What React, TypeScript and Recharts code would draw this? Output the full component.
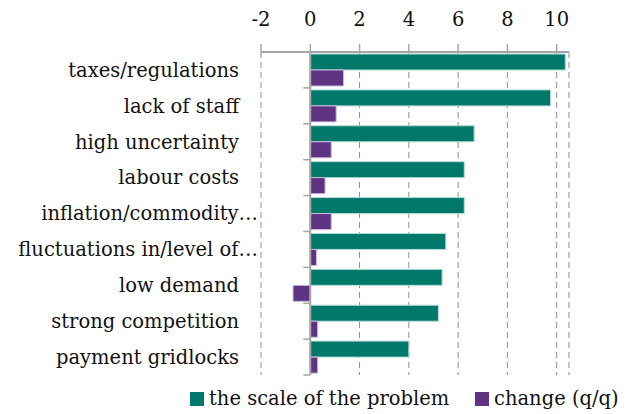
import { BarChart, Bar, XAxis, YAxis, CartesianGrid, ReferenceLine } from "recharts";

const categories = [
  "taxes/regulations",
  "lack of staff",
  "high uncertainty",
  "labour costs",
  "inflation/commodity…",
  "fluctuations in/level of…",
  "low demand",
  "strong competition",
  "payment gridlocks",
];
const scaleOfProblem = [10.35, 9.75, 6.65, 6.25, 6.25, 5.5, 5.35, 5.2, 4.0];
const changeQQ = [1.35, 1.05, 0.85, 0.6, 0.85, 0.25, -0.7, 0.3, 0.3];
const xTicks = [-2, 0, 2, 4, 6, 8, 10];
const seriesNames = ["the scale of the problem", "change (q/q)"];

const data = categories.map((name, i) => ({
  name,
  scale: scaleOfProblem[i],
  change: changeQQ[i],
}));

const W = 635;
const H = 414;
const PLOT_LEFT = 261;
const PLOT_RIGHT = 569;
const PLOT_TOP = 52;
const PLOT_BOTTOM = 375;
const X_MIN = -2;
const X_MAX = 10.5;

const FONT = "'DejaVu Serif', serif";
const FONT_SIZE = 19.5;
const TEAL = "#00796b";
const PURPLE = "#5e3382";
const AXIS = "#a6a6a6";
const GRID = "#8c8c8c";

// the category axis crosses at 0, so its little boundary ticks sit there
const zeroX = PLOT_LEFT + ((0 - X_MIN) / (X_MAX - X_MIN)) * (PLOT_RIGHT - PLOT_LEFT);
const halfBand = (PLOT_BOTTOM - PLOT_TOP) / categories.length / 2;

function CategoryTick(props: any) {
  const { x, y, payload, index } = props;
  const label: string = payload.value;
  const shift = label.endsWith("…") ? 19 : 0;
  return (
    <g>
      <line x1={zeroX - 7} x2={zeroX} y1={y - halfBand} y2={y - halfBand} stroke={AXIS} strokeWidth={1.5} />
      {index === categories.length - 1 && (
        <line x1={zeroX - 7} x2={zeroX} y1={y + halfBand} y2={y + halfBand} stroke={AXIS} strokeWidth={1.5} />
      )}
      <text
        x={x + shift}
        y={y}
        dy="0.35em"
        textAnchor="end"
        fontFamily={FONT}
        fontSize={FONT_SIZE}
        fill="#111"
      >
        {label}
      </text>
    </g>
  );
}

function LegendBox() {
  const colors = [TEAL, PURPLE];
  const widths = [285, 160];
  return (
    <div
      style={{
        position: "absolute",
        left: 190,
        top: 387,
        display: "flex",
        alignItems: "center",
        fontFamily: FONT,
        fontSize: FONT_SIZE,
        color: "#111",
      }}
    >
      {seriesNames.map((n, i) => (
        <div key={n} style={{ display: "flex", alignItems: "center", width: widths[i] }}>
          <span style={{ width: 14, height: 14, background: colors[i], marginRight: 5, display: "inline-block" }} />
          <span>{n}</span>
        </div>
      ))}
    </div>
  );
}

export default function App() {
  return (
    <div style={{ position: "absolute", left: 0, top: 0, width: W, height: H, background: "#fff" }}>
      <BarChart
        width={W}
        height={H}
        data={data}
        layout="vertical"
        margin={{ top: 0, right: W - PLOT_RIGHT, bottom: H - PLOT_BOTTOM, left: 0 }}
        barCategoryGap={2}
        barGap={0}
      >
        <CartesianGrid horizontal={false} strokeDasharray="6 4" stroke={GRID} />
        <XAxis
          type="number"
          orientation="top"
          domain={[X_MIN, X_MAX]}
          ticks={xTicks}
          height={PLOT_TOP}
          tickSize={8}
          tickMargin={18}
          axisLine={{ stroke: AXIS, strokeWidth: 2 }}
          tickLine={{ stroke: AXIS, strokeWidth: 1.5 }}
          tick={{ fontFamily: FONT, fontSize: FONT_SIZE, fill: "#111" }}
        />
        <YAxis
          type="category"
          dataKey="name"
          width={PLOT_LEFT}
          axisLine={false}
          tickLine={false}
          tickSize={0}
          tickMargin={22}
          interval={0}
          tick={<CategoryTick />}
        />
        <Bar dataKey="scale" name={seriesNames[0]} fill={TEAL} stroke="#b3dbd5" strokeWidth={1} isAnimationActive={false} />
        <Bar dataKey="change" name={seriesNames[1]} fill={PURPLE} stroke="#cdbcdc" strokeWidth={1} isAnimationActive={false} />
        <ReferenceLine x={0} stroke={AXIS} strokeWidth={2} />
      </BarChart>
      <LegendBox />
    </div>
  );
}
